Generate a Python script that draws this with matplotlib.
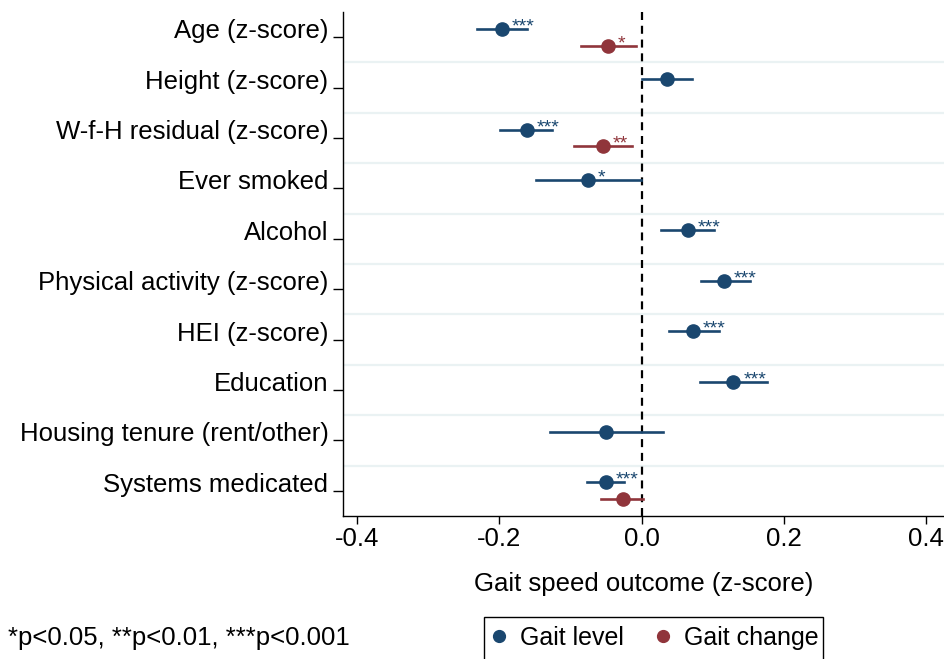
import numpy as np
import matplotlib
matplotlib.use('Agg')
import matplotlib.pyplot as plt
from matplotlib.transforms import ScaledTranslation
from matplotlib.lines import Line2D
from matplotlib.patches import Rectangle

plt.rcParams['font.family'] = ['Liberation Sans', 'DejaVu Sans']
plt.rcParams['axes.unicode_minus'] = False

# Коэффициенты модели (z-score) и 95% доверительные интервалы
labels = ['Age (z-score)', 'Height (z-score)', 'W-f-H residual (z-score)', 'Ever smoked',
          'Alcohol', 'Physical activity (z-score)', 'HEI (z-score)', 'Education',
          'Housing tenure (rent/other)', 'Systems medicated']

level_coef = [-0.196, 0.035, -0.162, -0.075, 0.065, 0.116, 0.072, 0.129, -0.050, -0.050]
level_lo = [-0.231, 0.000, -0.199, -0.149, 0.027, 0.083, 0.038, 0.082, -0.129, -0.077]
level_hi = [-0.161, 0.070, -0.126, -0.001, 0.101, 0.152, 0.108, 0.176, 0.030, -0.025]
level_stars = ['***', '', '***', '*', '***', '***', '***', '***', '', '***']

change_coef = [-0.047, np.nan, -0.054, np.nan, np.nan, np.nan, np.nan, np.nan, np.nan, -0.027]
change_lo = [-0.086, np.nan, -0.095, np.nan, np.nan, np.nan, np.nan, np.nan, np.nan, -0.057]
change_hi = [-0.008, np.nan, -0.014, np.nan, np.nan, np.nan, np.nan, np.nan, np.nan, 0.002]
change_stars = ['*', '', '**', '', '', '', '', '', '', '']

blue = '#1a476f'
red = '#90353b'

fig = plt.figure(figsize=(9.44, 6.59), dpi=100)
ax = fig.add_axes([343 / 944, 1 - 516 / 659, 1 - 343 / 944, (516 - 12) / 659])

y = np.arange(len(labels))

# светлые линии между категориями
for b in y[:-1] + 0.5:
    ax.axhline(b, color='#eaf2f3', lw=1.6, zorder=0)

ax.axvline(0, color='black', lw=1.6, dashes=(3.6, 2.6), zorder=1)


def draw_series(coef, lo, hi, stars, shift, color):
    for i in range(len(coef)):
        if np.isnan(coef[i]):
            continue
        yy = y[i] + shift
        ax.plot([lo[i], hi[i]], [yy, yy], color=color, lw=1.9, zorder=2)
        ax.plot(coef[i], yy, 'o', color=color, ms=9.5, zorder=3)
        if stars[i]:
            ax.annotate(stars[i], (coef[i], yy), xytext=(7, 1.5), textcoords='offset points',
                        ha='left', va='center', fontsize=14, color=color)


draw_series(level_coef, level_lo, level_hi, level_stars, -0.167, blue)
draw_series(change_coef, change_lo, change_hi, change_stars, 0.167, red)

ax.set_ylim(len(labels) - 0.5, -0.5)
ax.set_xlim(-0.42, 0.425)
ax.set_yticks(y)
ax.set_yticklabels(labels, fontsize=18.5)
ax.set_xticks([-0.4, -0.2, 0.0, 0.2, 0.4])
ax.set_xticklabels(['-0.4', '-0.2', '0.0', '0.2', '0.4'], fontsize=18.5)
ax.tick_params(axis='y', length=7, width=1, pad=3.5)
ax.tick_params(axis='x', length=5.5, width=1, pad=2.5)

# подписи категорий чуть выше своих делений
for lab in ax.get_yticklabels():
    lab.set_transform(lab.get_transform() + ScaledTranslation(0, 8.5 / 100, fig.dpi_scale_trans))

for s in ['top', 'right']:
    ax.spines[s].set_visible(False)
for s in ['left', 'bottom']:
    ax.spines[s].set_linewidth(1)

ax.set_xlabel('Gait speed outcome (z-score)', fontsize=18.5, labelpad=15)

fig.text(8 / 944, 1 - 638 / 659, '*p<0.05, **p<0.01, ***p<0.001', fontsize=18.5, va='center', ha='left')

# легенда: рамка рисуется отдельно, нижний край уходит за границу рисунка
handles = [Line2D([], [], ls='none', marker='o', color=blue, ms=8.5),
           Line2D([], [], ls='none', marker='o', color=red, ms=8.5)]
fig.legend(handles, ['Gait level', 'Gait change'], loc='upper left',
           bbox_to_anchor=(484 / 944, 1 - 617 / 659), borderaxespad=0, ncol=2, fontsize=18,
           frameon=False, handlelength=0.5, handletextpad=0.6, columnspacing=1.3, borderpad=0.35)
fig.patches.append(Rectangle((484 / 944, -0.05), (823 - 484) / 944, 0.05 + 42 / 659,
                             transform=fig.transFigure, fill=False, edgecolor='black', lw=1))

plt.savefig('out.png', dpi=100)
